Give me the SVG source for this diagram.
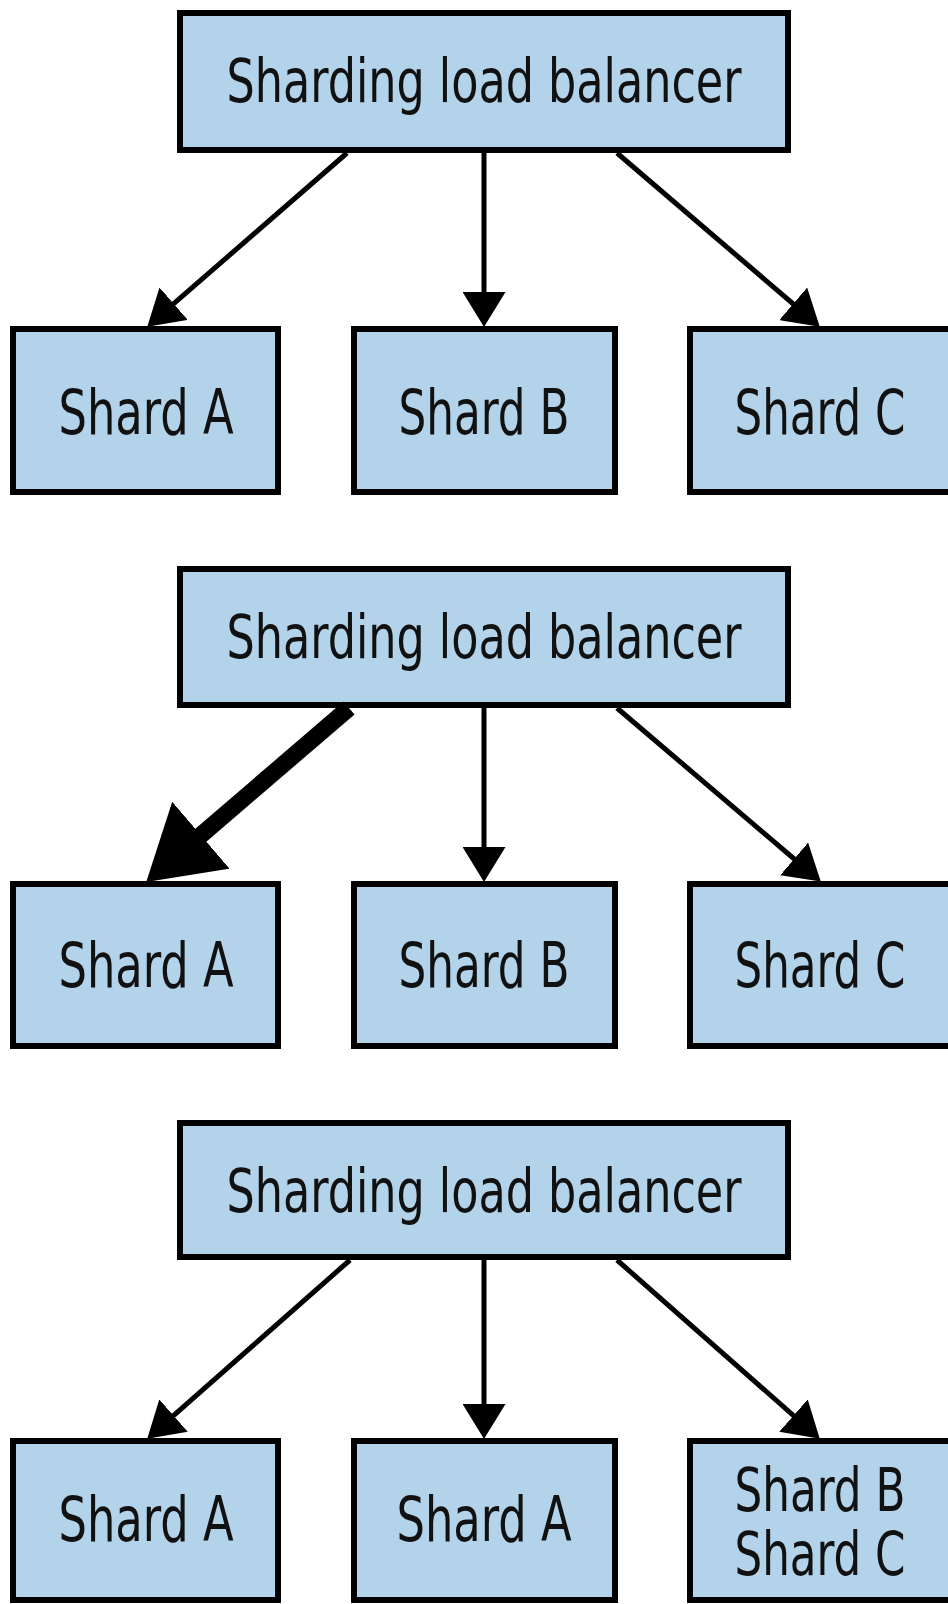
<svg xmlns="http://www.w3.org/2000/svg" width="948" height="1604" viewBox="0 0 948 1604">
<style>
.box{fill:#b3d3ea;stroke:#000;stroke-width:6;stroke-linejoin:miter}
.lb{font-family:"Liberation Sans Narrow","DejaVu Sans Condensed","DejaVu Sans",sans-serif;font-size:60px;fill:#111;text-anchor:middle}
.sh{font-family:"Liberation Sans Narrow","DejaVu Sans Condensed","DejaVu Sans",sans-serif;font-size:63px;fill:#111;text-anchor:middle}
.sh2{font-family:"Liberation Sans Narrow","DejaVu Sans Condensed","DejaVu Sans",sans-serif;font-size:60px;fill:#111;text-anchor:middle}
.ln{stroke:#000;stroke-width:5;fill:none;marker-end:url(#ah)}
.thick{stroke:#000;stroke-width:17;fill:none;marker-end:url(#ahBig)}
</style>
<defs>
<marker id="ah" markerUnits="userSpaceOnUse" viewBox="0 0 35 43" refX="14" refY="21.5" markerWidth="35" markerHeight="43" orient="auto">
<path d="M0,0 L35,21.5 L0,43 Z" fill="#000"/>
</marker>
<marker id="ahBig" markerUnits="userSpaceOnUse" viewBox="0 0 72 88" refX="20" refY="44" markerWidth="72" markerHeight="88" orient="auto">
<path d="M0,0 L72,44 L0,88 Z" fill="#000"/>
</marker>
</defs>

<g id="lb1"><rect class="box" x="180" y="13" width="608" height="137"/><text class="lb" x="484" y="102" textLength="515" lengthAdjust="spacingAndGlyphs">Sharding load balancer</text></g>
<g id="r1a"><rect class="box" x="13" y="329" width="265" height="163"/><text class="sh" x="146" y="434" textLength="175" lengthAdjust="spacingAndGlyphs">Shard A</text></g>
<g id="r1b"><rect class="box" x="354" y="329" width="261" height="163"/><text class="sh" x="484" y="434" textLength="171" lengthAdjust="spacingAndGlyphs">Shard B</text></g>
<g id="r1c"><rect class="box" x="690" y="329" width="280" height="163"/><text class="sh" x="820" y="434" textLength="171" lengthAdjust="spacingAndGlyphs">Shard C</text></g>

<g id="lb2"><rect class="box" x="180" y="569" width="608" height="136"/><text class="lb" x="484" y="658" textLength="515" lengthAdjust="spacingAndGlyphs">Sharding load balancer</text></g>
<g id="r2a"><rect class="box" x="13" y="884" width="265" height="162"/><text class="sh" x="146" y="987" textLength="175" lengthAdjust="spacingAndGlyphs">Shard A</text></g>
<g id="r2b"><rect class="box" x="354" y="884" width="261" height="162"/><text class="sh" x="484" y="987" textLength="171" lengthAdjust="spacingAndGlyphs">Shard B</text></g>
<g id="r2c"><rect class="box" x="690" y="884" width="280" height="162"/><text class="sh" x="820" y="987" textLength="171" lengthAdjust="spacingAndGlyphs">Shard C</text></g>

<g id="lb3"><rect class="box" x="180" y="1123" width="608" height="134"/><text class="lb" x="484" y="1212" textLength="515" lengthAdjust="spacingAndGlyphs">Sharding load balancer</text></g>
<g id="r3a"><rect class="box" x="13" y="1441" width="265" height="159"/><text class="sh" x="146" y="1541" textLength="175" lengthAdjust="spacingAndGlyphs">Shard A</text></g>
<g id="r3b"><rect class="box" x="354" y="1441" width="261" height="159"/><text class="sh" x="484" y="1541" textLength="175" lengthAdjust="spacingAndGlyphs">Shard A</text></g>
<g id="r3c"><rect class="box" x="690" y="1441" width="280" height="159"/><text class="sh2" x="820" y="1511" textLength="171" lengthAdjust="spacingAndGlyphs">Shard B</text><text class="sh2" x="820" y="1575" textLength="171" lengthAdjust="spacingAndGlyphs">Shard C</text></g>

<g id="connectors">
<line class="ln" x1="347" y1="153" x2="163.1" y2="312.9"/>
<line class="ln" x1="484" y1="153" x2="484" y2="306"/>
<line class="ln" x1="617" y1="153" x2="803.8" y2="313"/>
<line class="thick" x1="349" y1="708" x2="185.7" y2="848.2"/>
<line class="ln" x1="484" y1="708" x2="484" y2="861"/>
<line class="ln" x1="617" y1="708" x2="804.8" y2="868"/>
<line class="ln" x1="350" y1="1260" x2="163" y2="1424.8"/>
<line class="ln" x1="484" y1="1260" x2="484" y2="1418"/>
<line class="ln" x1="617" y1="1260" x2="804" y2="1424.8"/>
</g>
</svg>
